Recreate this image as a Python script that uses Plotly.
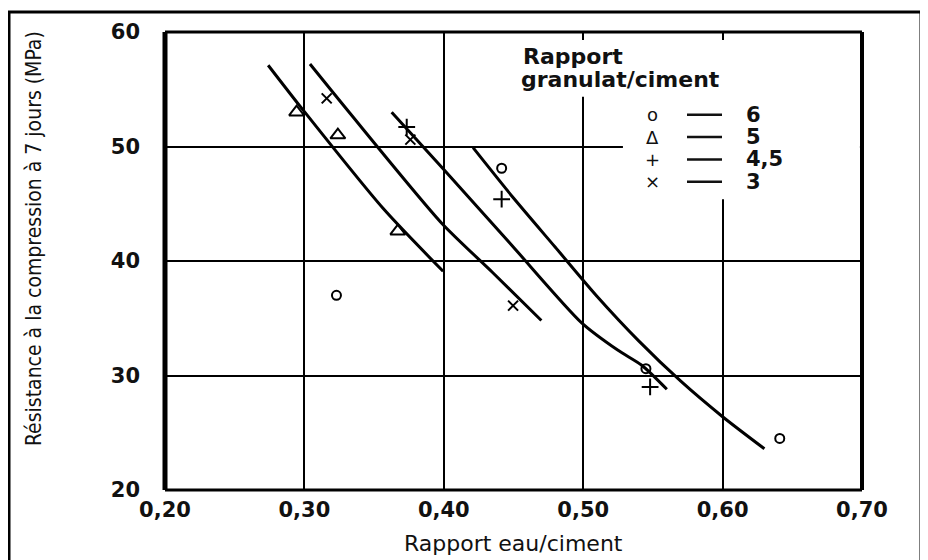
import plotly.graph_objects as go

# ---- data ----
x_ticks = [0.20, 0.30, 0.40, 0.50, 0.60, 0.70]
x_ticklabels = ["0,20", "0,30", "0,40", "0,50", "0,60", "0,70"]
y_ticks = [20, 30, 40, 50, 60]
y_ticklabels = ["20", "30", "40", "50", "60"]

# fitted curves (ratio water/cement -> 7-day strength)
curve_5_x = [0.274, 0.297, 0.3564, 0.3995]
curve_5_y = [57.1, 53.5, 44.6, 39.1]
curve_3_x = [0.304, 0.3327, 0.3985, 0.435, 0.470]
curve_3_y = [57.2, 52.9, 43.3, 39.0, 34.8]
curve_45_x = [0.3626, 0.400, 0.450, 0.4989, 0.525, 0.542, 0.560]
curve_45_y = [53.0, 48.0, 41.2, 34.6, 32.2, 30.9, 28.8]
curve_6_x = [0.421, 0.450, 0.480, 0.510, 0.540, 0.570, 0.600, 0.630]
curve_6_y = [49.9, 45.5, 41.2, 36.9, 33.0, 29.5, 26.4, 23.6]

# measured points
pts_6_x = [0.4415, 0.545, 0.641, 0.323]
pts_6_y = [48.1, 30.6, 24.5, 37.0]
pts_5_x = [0.2944, 0.324, 0.367]
pts_5_y = [53.0, 51.0, 42.6]
pts_45_x = [0.3734, 0.4415, 0.548]
pts_45_y = [51.7, 45.4, 29.0]
pts_3_x = [0.316, 0.376, 0.4497]
pts_3_y = [54.2, 50.6, 36.1]

legend_title = ["Rapport", "granulat/ciment"]
legend_symbols = ["o", "Δ", "+", "×"]
legend_labels = ["6", "5", "4,5", "3"]

FONT = "DejaVu Sans, Arial, sans-serif"

# plot area in window pixels: x 165..862, y 30..490 (page has an 8px body margin)
def px(wx):
    return (wx - 165) / 697.0


def py(wy):
    return 1 - (wy - 30) / 460.0


fig = go.Figure()

for cx, cy in [(curve_5_x, curve_5_y), (curve_3_x, curve_3_y),
               (curve_45_x, curve_45_y), (curve_6_x, curve_6_y)]:
    fig.add_trace(go.Scatter(x=cx, y=cy, mode="lines",
                             line=dict(color="black", width=3, shape="spline", smoothing=0.7),
                             showlegend=False, hoverinfo="skip"))

for mx, my, sym, sz in [(pts_6_x, pts_6_y, "circle-open", 9),
                        (pts_5_x, pts_5_y, "triangle-up-open", 13),
                        (pts_45_x, pts_45_y, "cross-thin-open", 12),
                        (pts_3_x, pts_3_y, "x-thin-open", 10)]:
    fig.add_trace(go.Scatter(x=mx, y=my, mode="markers",
                             marker=dict(symbol=sym, size=sz, color="black",
                                         line=dict(color="black", width=2)),
                             showlegend=False, hoverinfo="skip"))

shapes = []
# white areas behind the legend text (gridlines interrupted there)
shapes.append(dict(type="rect", xref="x", yref="y", x0=0.451, x1=0.656, y0=54.35, y1=59.3,
                   fillcolor="white", line=dict(width=0), layer="between"))
shapes.append(dict(type="rect", xref="x", yref="y", x0=0.5285, x1=0.6985, y0=45.39, y1=54.4,
                   fillcolor="white", line=dict(width=0), layer="between"))
# plot frame
shapes.append(dict(type="line", xref="paper", yref="paper", x0=0, x1=0, y0=0, y1=1,
                   line=dict(color="black", width=5)))
shapes.append(dict(type="line", xref="paper", yref="paper", x0=1, x1=1, y0=0, y1=1,
                   line=dict(color="black", width=4)))
shapes.append(dict(type="line", xref="paper", yref="paper", x0=0, x1=1, y0=1, y1=1,
                   line=dict(color="black", width=3)))
shapes.append(dict(type="line", xref="paper", yref="paper", x0=0, x1=1, y0=0, y1=0,
                   line=dict(color="black", width=3)))
# outer picture border
shapes.append(dict(type="rect", xref="paper", yref="paper",
                   x0=px(9), x1=px(921), y0=py(600), y1=py(10),
                   line=dict(color="black", width=3), fillcolor="rgba(0,0,0,0)"))

annotations = []
annotations.append(dict(text=legend_title[0], xref="paper", yref="paper",
                        x=px(521), y=py(55), xanchor="left", yanchor="middle", showarrow=False,
                        font=dict(family=FONT, size=22, color="#111", weight="bold")))
annotations.append(dict(text=legend_title[1], xref="paper", yref="paper",
                        x=px(519), y=py(78), xanchor="left", yanchor="middle", showarrow=False,
                        font=dict(family=FONT, size=22, color="#111", weight="bold")))
row_y = [113, 135.5, 158, 180.5]
for i, (s, lab) in enumerate(zip(legend_symbols, legend_labels)):
    annotations.append(dict(text=s, xref="paper", yref="paper", x=px(652), y=py(row_y[i]),
                            xanchor="center", yanchor="middle", showarrow=False,
                            font=dict(family=FONT, size=18, color="#111")))
    shapes.append(dict(type="line", xref="paper", yref="paper",
                       x0=px(687), x1=px(722), y0=py(row_y[i]), y1=py(row_y[i]),
                       line=dict(color="#111", width=2.5)))
    annotations.append(dict(text=lab, xref="paper", yref="paper", x=px(744), y=py(row_y[i]),
                            xanchor="left", yanchor="middle", showarrow=False,
                            font=dict(family=FONT, size=21, color="#111", weight="bold")))
# axis titles
annotations.append(dict(text="Rapport eau/ciment", xref="paper", yref="paper",
                        x=0.5, y=py(544), xanchor="center", yanchor="middle",
                        showarrow=False, font=dict(family=FONT, size=22, color="#111")))
annotations.append(dict(text="Résistance à la compression à 7 jours (MPa)", xref="paper",
                        yref="paper", x=px(34), y=py(238),
                        xanchor="center", yanchor="middle", textangle=-90, showarrow=False,
                        font=dict(family="Liberation Sans Narrow, DejaVu Sans Condensed, Arial Narrow, sans-serif",
                                  size=21, color="#111")))

fig.update_layout(
    width=920, height=552,
    margin=dict(l=157, r=66, t=22, b=70),
    paper_bgcolor="white", plot_bgcolor="white",
    shapes=shapes, annotations=annotations,
    showlegend=False,
)
fig.update_xaxes(range=[0.2, 0.7], tickvals=x_ticks, ticktext=x_ticklabels,
                 showgrid=True, gridcolor="black", gridwidth=2, zeroline=False,
                 showline=False, ticks="", ticklabelstandoff=5,
                 tickfont=dict(family=FONT, size=21, color="#111", weight="bold"))
fig.update_yaxes(range=[20, 60], tickvals=y_ticks, ticktext=y_ticklabels,
                 showgrid=True, gridcolor="black", gridwidth=2, zeroline=False,
                 showline=False, ticks="", ticklabelstandoff=24,
                 tickfont=dict(family=FONT, size=21, color="#111", weight="bold"))

fig.write_html("out.html")
